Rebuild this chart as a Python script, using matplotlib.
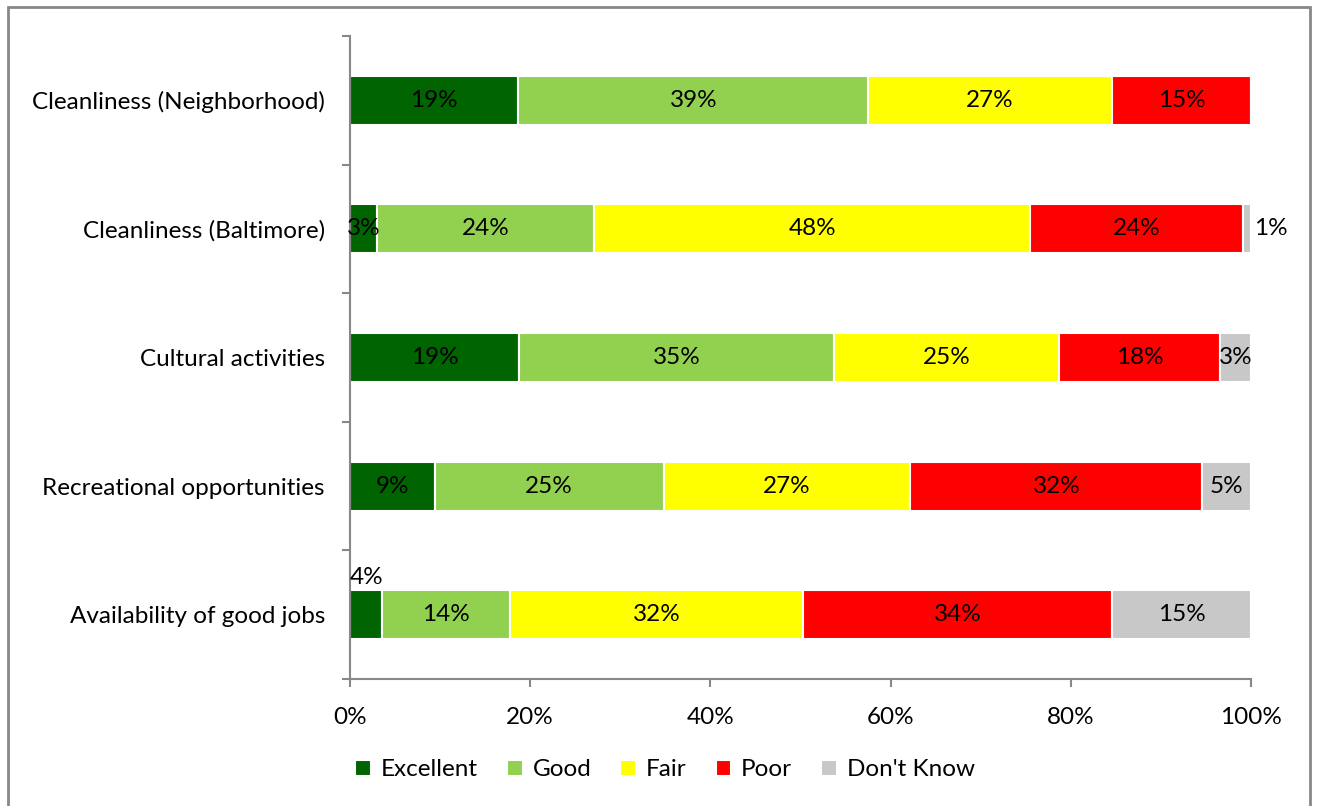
import matplotlib
matplotlib.use("Agg")
import matplotlib.pyplot as plt
from matplotlib.patches import Rectangle
import numpy as np

plt.rcParams['font.family'] = ['Lato', 'DejaVu Sans']

# Survey ratings, percent of respondents
categories = [
    "Cleanliness (Neighborhood)",
    "Cleanliness (Baltimore)",
    "Cultural activities",
    "Recreational opportunities",
    "Availability of good jobs",
]
series_names = ["Excellent", "Good", "Fair", "Poor", "Don't Know"]
excellent = [18.7, 3.0, 18.8, 9.4, 3.6]
good = [38.8, 24.1, 34.9, 25.4, 14.2]
fair = [27.1, 48.4, 25.0, 27.4, 32.5]
poor = [15.4, 23.6, 17.9, 32.4, 34.3]
dont_know = [0.0, 0.9, 3.4, 5.4, 15.4]
x_ticks = [0, 20, 40, 60, 80, 100]

colors = ["#006400", "#92D050", "#FFFF00", "#FF0000", "#C8C8C8"]
series = [excellent, good, fair, poor, dont_know]

W, H = 1317, 806
fig = plt.figure(figsize=(W / 100, H / 100), dpi=100)
ax = fig.add_axes([350 / W, 1 - 679 / H, (1251 - 350) / W, (679 - 36) / H])

y = np.arange(len(categories))
left = np.zeros(len(categories))
bar_h = 0.38
fs = 17.5

# label placement for narrow segments: (row, series) -> mode
special = {(4, 0): "above", (1, 4): "right"}

for si, (name, vals, col) in enumerate(zip(series_names, series, colors)):
    vals = np.array(vals)
    ax.barh(y, vals, left=left, height=bar_h, color=col, edgecolor="white",
            linewidth=1.5, label=name, zorder=2)
    for ri, v in enumerate(vals):
        if v <= 0:
            continue
        txt = f"{v:.0f}%"
        mode = special.get((ri, si), "center")
        if mode == "center":
            ax.text(left[ri] + v / 2, y[ri], txt, ha="center", va="center",
                    fontsize=fs, color="black", zorder=3)
        elif mode == "above":
            ax.text(left[ri] + v / 2, y[ri] - bar_h / 2 - 0.02, txt,
                    ha="center", va="bottom", fontsize=fs, color="black", zorder=3)
        else:
            ax.text(left[ri] + v + 0.3, y[ri], txt, ha="left", va="center",
                    fontsize=fs, color="black", zorder=3)
    left = left + vals

ax.set_xlim(0, 100)
ax.set_ylim(len(categories) - 0.5, -0.5)
ax.set_xticks(x_ticks)
ax.set_xticklabels([f"{t}%" for t in x_ticks], fontsize=fs)
ax.set_yticks(np.arange(len(categories) + 1) - 0.5)
ax.set_yticklabels([])
ax.set_yticks(y, minor=True)
ax.set_yticklabels(categories, minor=True, fontsize=fs)
ax.tick_params(axis="y", which="minor", length=0, pad=18)
ax.tick_params(axis="y", which="major", length=6, width=1.5, color="#888888",
               direction="out")
ax.tick_params(axis="x", length=6, width=1.5, color="#888888", direction="out",
               pad=14)
for s in ["top", "right"]:
    ax.spines[s].set_visible(False)
for s in ["left", "bottom"]:
    ax.spines[s].set_color("#888888")
    ax.spines[s].set_linewidth(1.5)

leg = fig.legend(loc="center", bbox_to_anchor=(665 / W, 1 - 770 / H), ncol=5,
                 frameon=False, fontsize=fs, handlelength=0.65, handleheight=0.65,
                 handletextpad=0.4, columnspacing=1.2)

# outer chart border
fig.patches.append(Rectangle((8 / W, -0.05), (1310 - 8) / W, 1.05 - 7 / H,
                             transform=fig.transFigure, fill=False,
                             edgecolor="#888888", linewidth=2))

fig.savefig("out.png", dpi=100)
